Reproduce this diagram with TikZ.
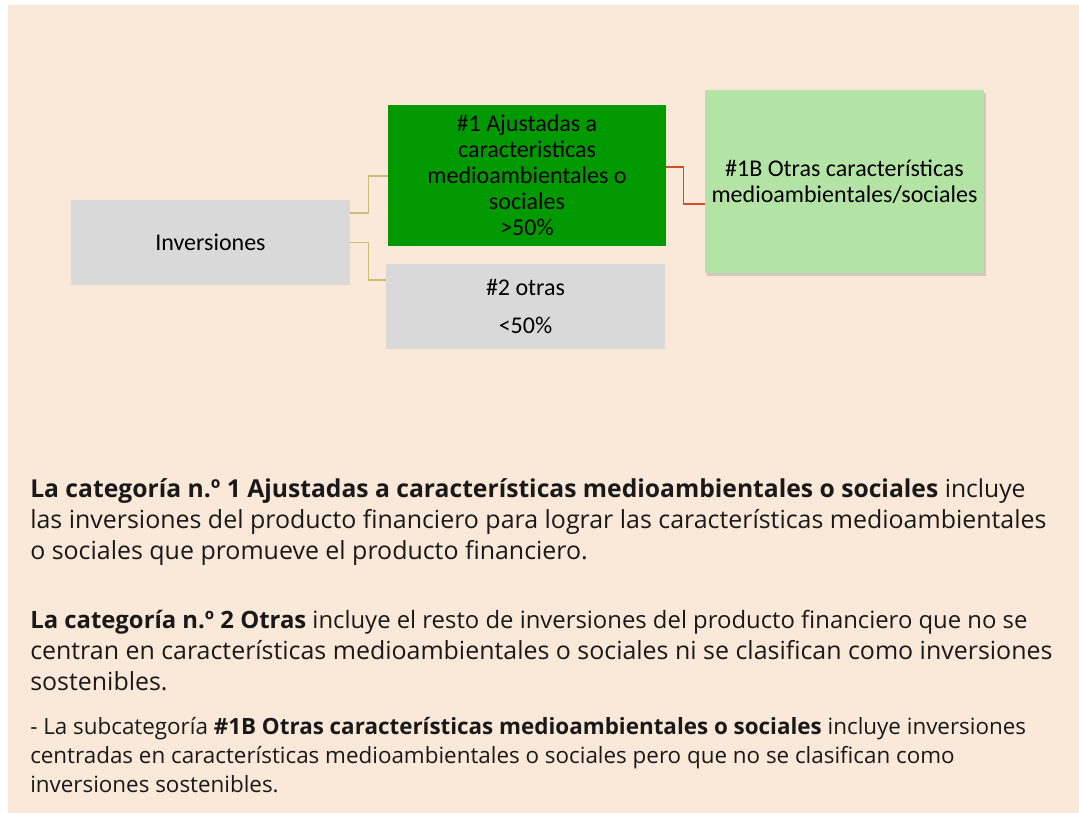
\documentclass[tikz,border=0pt]{standalone}
\usepackage{fontspec}
\setmainfont{Carlito}
\newfontfamily\notefont{Open Sans}
\usetikzlibrary{positioning, calc, shadows}
\definecolor{peach}{RGB}{250,232,216}
\definecolor{boxgrey}{RGB}{217,217,217}
\definecolor{deepgreen}{RGB}{0,153,0}
\definecolor{palegreen}{RGB}{180,228,165}
\definecolor{linkolive}{RGB}{201,190,115}
\definecolor{linkred}{RGB}{205,80,45}
\definecolor{notetext}{RGB}{25,25,25}

\begin{document}
\begin{tikzpicture}[x=0.75pt, y=-0.75pt,
    box/.style={rectangle, inner sep=0pt, align=center, font=\fontsize{18}{19.5}\selectfont},
    greybox/.style={box, fill=boxgrey},
    link/.style={line width=1pt, draw=linkolive},
    redlink/.style={line width=1pt, draw=linkred},
    note/.style={anchor=north west, inner sep=0pt, align=left, text=notetext},
    ]
    \useasboundingbox (0,0) rectangle (1079,813);
    \fill[peach] (8,5) rectangle (1079,813);

    % Boxes of the tree
    \node[greybox, minimum width=209.25pt, minimum height=63.75pt] (inv) at (210.5,242.5) {Inversiones};
    \node[box, fill=deepgreen, minimum width=208.5pt, minimum height=105.75pt] (aj) at (527,175.5)
        {\#1 Ajustadas a\\caracteristicas\\medioambientales o\\sociales\\>50\%};
    \node[greybox, minimum width=209.25pt, minimum height=63.75pt] (otr) at (525.5,306.5) {\#2 otras\\[9pt]<50\%};
    \node[box, fill=palegreen, drop shadow={shadow xshift=1.5pt, shadow yshift=-2.5pt, opacity=0.3},
        minimum width=209.25pt, minimum height=137.25pt] (otb) at (844.5,181.5)
        {\#1B Otras características\\medioambientales/sociales};

    % Connectors
    \draw[link] ($(inv.east)+(0,-29.5)$) -- ++(18,0) |- ($(aj.west)+(0,0.5)$);
    \draw[link] (inv.east) -- ++(18,0) |- ($(otr.west)+(0,-26.5)$);
    \draw[redlink] ($(aj.east)+(0,-8.5)$) -- ++(17,0) |- ($(otb.west)+(0,22.5)$);

    % Notes below
    \node[note, font=\notefont\fontsize{18.7}{23.25}\selectfont] (par1) at (30,478)
        {{\fontsize{18.5}{23.25}\selectfont\textbf{La categoría n.º 1 Ajustadas a características medioambientales o sociales} incluye}\\
         las inversiones del producto financiero para lograr las características medioambientales\\
         o sociales que promueve el producto financiero.};
    \node[note, font=\notefont\fontsize{18.7}{23.25}\selectfont] (par2) at (30,610)
        {{\fontsize{17.9}{23.25}\selectfont\textbf{La categoría n.º 2 Otras} incluye el resto de inversiones del producto financiero que no se}\\
         centran en características medioambientales o sociales ni se clasifican como inversiones\\
         sostenibles.};
    \node[note, font=\notefont\fontsize{16.8}{21.75}\selectfont] (par3) at (30,717)
        {- La subcategoría \textbf{\#1B Otras características medioambientales o sociales} incluye inversiones\\
         centradas en características medioambientales o sociales pero que no se clasifican como\\
         inversiones sostenibles.};
\end{tikzpicture}
\end{document}
